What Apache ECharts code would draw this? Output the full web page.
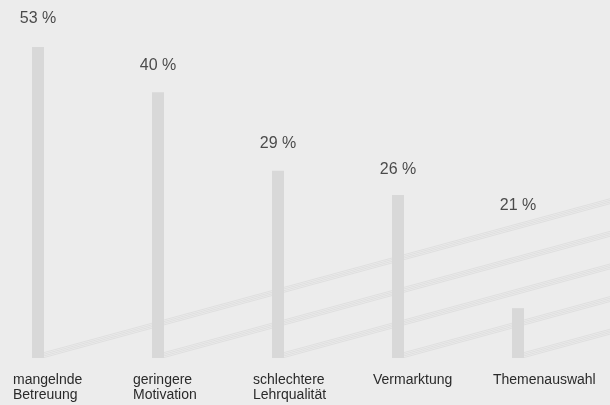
<!DOCTYPE html>
<html>
<head>
<meta charset="utf-8">
<script src="https://cdn.jsdelivr.net/npm/echarts@6/dist/echarts.min.js"></script>
<style>
html,body{margin:0;padding:0;background:#ececec;}
#c{width:610px;height:405px;}
</style>
</head>
<body>
<div id="c"></div>
<script>
// Data
const categories = ['mangelnde\nBetreuung', 'geringere\nMotivation', 'schlechtere\nLehrqualität', 'Vermarktung', 'Themenauswahl'];
const percentValues = [53, 40, 29, 26, 21];
// drawn bar heights (same vertical scale as the 53 % bar)
const barHeights = [53, 45.3, 31.9, 27.8, 8.5];
// heights at which the percent labels sit
const labelHeights = [57.8, 49.9, 36.5, 32.1, 25.9];
// decorative diagonal ribbons: rise per category step, stripe offsets
const ribbonRise = 5.56;
const stripeOffsets = [0.08, 0.36, 0.64, 0.92];

const chart = echarts.init(document.getElementById('c'), null, {renderer: 'canvas'});

const xMin = -38 / 120, xMax = 572 / 120;
const lineSeries = [];
categories.forEach((c, i) => {
  const x0 = i + 0.05;
  stripeOffsets.forEach(o => {
    lineSeries.push({
      type: 'line', xAxisIndex: 0, yAxisIndex: 0, z: 1, silent: true,
      symbol: 'none',
      lineStyle: {color: '#dfdfdf', width: 1},
      data: [[x0, o], [xMax, o + ribbonRise * (xMax - x0)]]
    });
  });
});

const font = 'Liberation Sans, Arial, sans-serif';
chart.setOption({
  animation: false,
  backgroundColor: '#ececec',
  grid: [
    {left: 0, right: 0, top: 6, bottom: 47},
    {left: 13, width: 480, top: 6, bottom: 47}
  ],
  xAxis: [
    {type: 'value', gridIndex: 0, min: xMin, max: xMax, show: false},
    {type: 'category', gridIndex: 1, data: categories, boundaryGap: false,
      axisLine: {show: false}, axisTick: {show: false}, splitLine: {show: false},
      axisLabel: {interval: 0, align: 'left', margin: 15, fontSize: 14, lineHeight: 15,
        color: '#2a2a2a', fontFamily: font}}
  ],
  yAxis: [
    {type: 'value', gridIndex: 0, min: 0, max: 60, show: false},
    {type: 'value', gridIndex: 1, min: 0, max: 60, show: false}
  ],
  series: lineSeries.concat([
    {type: 'bar', xAxisIndex: 0, yAxisIndex: 0, z: 2, barWidth: 12, silent: true,
      itemStyle: {color: '#d8d8d8'},
      data: barHeights.map((h, i) => [i, h])},
    {type: 'scatter', xAxisIndex: 0, yAxisIndex: 0, z: 3, symbolSize: 1, silent: true,
      itemStyle: {color: 'transparent'},
      label: {show: true, position: 'inside', fontSize: 16, color: '#222',
        textBorderWidth: 0, fontFamily: font,
        formatter: p => percentValues[p.dataIndex] + ' %'},
      data: labelHeights.map((h, i) => [i, h])}
  ])
});
</script>
</body>
</html>
